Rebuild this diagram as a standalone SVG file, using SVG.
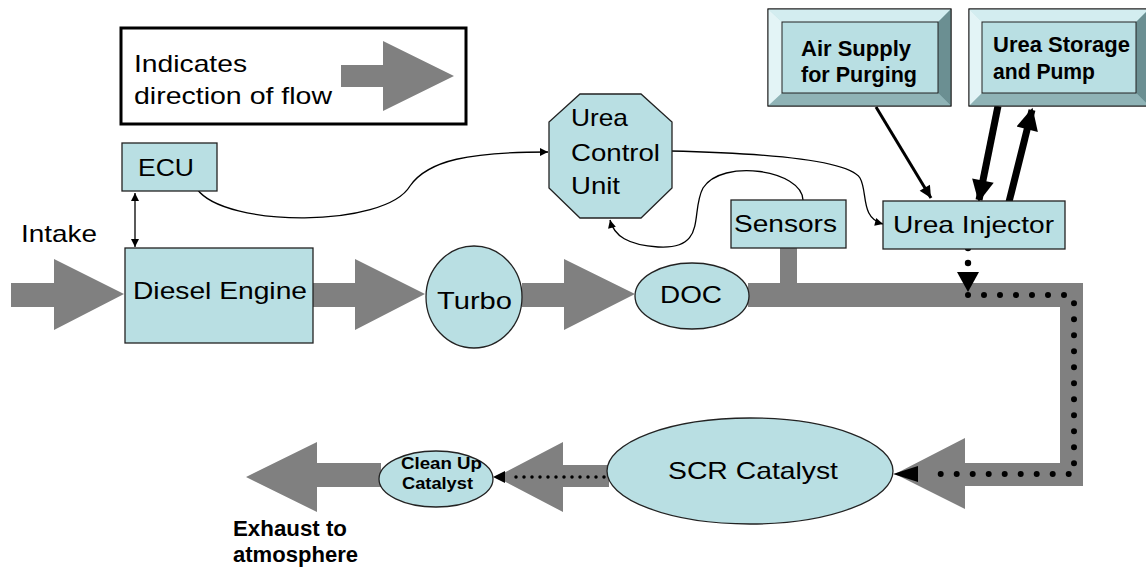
<svg xmlns="http://www.w3.org/2000/svg" width="1146" height="567" viewBox="0 0 1146 567">
<defs>
<style>
.t{font-family:"Liberation Sans",Arial,sans-serif;font-size:24px;fill:#000}
.b{font-family:"Liberation Sans",Arial,sans-serif;font-size:22px;font-weight:bold;fill:#000}
.s{font-family:"Liberation Sans",Arial,sans-serif;font-size:17px;font-weight:bold;fill:#000}
.node{fill:#b9dfe3;stroke:#222;stroke-width:1.3}
.flow{fill:#808080;stroke:none}
.thin{fill:none;stroke:#000;stroke-width:1.3}
.dots{fill:none;stroke:#000;stroke-width:6;stroke-linecap:round;stroke-dasharray:0 16}
.bvtop{fill:#d3edf0}.bvleft{fill:#e3f4f6}.bvbot{fill:#8fb3b6}.bvright{fill:#6b8f92}
</style>
<marker id="ah" viewBox="0 0 10 10" refX="10" refY="5" markerWidth="9" markerHeight="8" markerUnits="userSpaceOnUse" orient="auto"><path d="M0,0 L10,5 L0,10 z" fill="#000"/></marker>
<marker id="ahs" viewBox="0 0 10 10" refX="0" refY="5" markerWidth="9" markerHeight="8" markerUnits="userSpaceOnUse" orient="auto"><path d="M10,0 L0,5 L10,10 z" fill="#000"/></marker>
<marker id="ahm" viewBox="0 0 10 10" refX="10" refY="5" markerWidth="14" markerHeight="12" markerUnits="userSpaceOnUse" orient="auto"><path d="M0,0 L10,5 L0,10 z" fill="#000"/></marker>
<marker id="ahb" viewBox="0 0 10 10" refX="9" refY="5" markerWidth="24" markerHeight="22" markerUnits="userSpaceOnUse" orient="auto"><path d="M0,0 L10,5 L0,10 z" fill="#000"/></marker>
</defs>
<rect width="1146" height="567" fill="#fff"/>

<g id="legend">
<rect x="121" y="28" width="345" height="96" fill="#fff" stroke="#000" stroke-width="3"/>
<text class="t" x="134" y="72" font-size="26" textLength="113" lengthAdjust="spacingAndGlyphs">Indicates</text>
<text class="t" x="134" y="104" font-size="26" textLength="198" lengthAdjust="spacingAndGlyphs">direction of flow</text>
<polygon class="flow" points="341,65 383,65 383,41 454,76 383,111 383,87 341,87"/>
</g>

<g id="connectors">
<polygon class="flow" points="11,283 54,283 54,259 124,294 54,330 54,307 11,307"/>
<polygon class="flow" points="313,283 355,283 355,259 425,294 355,330 355,307 313,307"/>
<polygon class="flow" points="522,283 564,283 564,259 635,294 564,330 564,307 522,307"/>
<rect class="flow" x="748" y="283" width="335" height="24"/>
<rect class="flow" x="780" y="246" width="17" height="38"/>
<rect class="flow" x="1060" y="283" width="23" height="203"/>
<polygon class="flow" points="1083,463 965,463 965,438 895,474 965,509 965,486 1083,486"/>
<polygon class="flow" points="609,465 563,465 563,442 496,477 563,512 563,487 609,487"/>
<polygon class="flow" points="381,463 317,463 317,442 246,477 317,512 317,487 381,487"/>
<line class="thin" x1="135" y1="193" x2="135" y2="247" marker-start="url(#ahs)" marker-end="url(#ah)"/>
<path class="thin" d="M197,189 C225,228 385,228 410,186 C428,160 470,152 548,152" marker-end="url(#ah)"/>
<path class="thin" d="M670,151 C760,153 848,160 860,178 C868,192 860,218 883,224" marker-end="url(#ah)"/>
<path class="thin" d="M803,200 C802,170 722,158 703,188 C690,212 708,250 658,247 C628,245 614,236 610,220" marker-end="url(#ah)"/>
<line x1="876" y1="107" x2="931" y2="198" stroke="#000" stroke-width="3" marker-end="url(#ahm)"/>
<line x1="998" y1="106" x2="979" y2="200" stroke="#000" stroke-width="7" marker-end="url(#ahb)"/>
<line x1="1009" y1="202" x2="1032" y2="110" stroke="#000" stroke-width="7" marker-end="url(#ahb)"/>
<circle cx="968" cy="248" r="3.2" fill="#000"/>
<circle cx="968" cy="263" r="3.2" fill="#000"/>
<polygon points="957,272 979,272 968,292" fill="#000"/>
<path class="dots" d="M968,295 H1069 Q1074,295 1074,301 V474 H925"/>
<polygon points="918,466 918,482 893,474" fill="#000"/>
<path d="M604,477 H510" fill="none" stroke="#000" stroke-width="3.5" stroke-linecap="round" stroke-dasharray="0 8"/>
<polygon points="505,471 505,483 493,477" fill="#000"/>
</g>

<g id="ecu">
<rect class="node" x="122" y="143" width="95" height="48"/>
<text class="t" x="138" y="176" textLength="56" lengthAdjust="spacingAndGlyphs">ECU</text>
</g>

<g id="intake-label">
<text class="t" x="21" y="242" textLength="76" lengthAdjust="spacingAndGlyphs">Intake</text>
</g>

<g id="diesel-engine">
<rect class="node" x="125" y="248" width="188" height="95"/>
<text class="t" x="133" y="299" textLength="174" lengthAdjust="spacingAndGlyphs">Diesel Engine</text>
</g>

<g id="turbo">
<ellipse class="node" cx="474" cy="297" rx="48" ry="51"/>
<text class="t" x="437" y="309" textLength="75" lengthAdjust="spacingAndGlyphs">Turbo</text>
</g>

<g id="doc">
<ellipse class="node" cx="692" cy="296" rx="57" ry="33"/>
<text class="t" x="660" y="303" textLength="62" lengthAdjust="spacingAndGlyphs">DOC</text>
</g>

<g id="urea-control-unit">
<polygon class="node" points="580,94 641,94 672,122 672,188 641,218 580,218 549,188 549,122"/>
<text class="t" x="571" y="126" font-size="26" textLength="57" lengthAdjust="spacingAndGlyphs">Urea</text>
<text class="t" x="571" y="161" font-size="26" textLength="89" lengthAdjust="spacingAndGlyphs">Control</text>
<text class="t" x="571" y="194" font-size="26" textLength="49" lengthAdjust="spacingAndGlyphs">Unit</text>
</g>

<g id="sensors">
<rect class="node" x="731" y="200" width="115" height="48"/>
<text class="t" x="734" y="232" textLength="103" lengthAdjust="spacingAndGlyphs">Sensors</text>
</g>

<g id="urea-injector">
<rect class="node" x="883" y="201" width="182" height="48"/>
<text class="t" x="893" y="233" textLength="161" lengthAdjust="spacingAndGlyphs">Urea Injector</text>
</g>

<g id="air-supply">
<rect x="768" y="9" width="183" height="97" fill="#b9dfe3" stroke="#222" stroke-width="1"/>
<polygon class="bvtop" points="768,9 951,9 938,22 782,22"/>
<polygon class="bvleft" points="768,9 782,22 782,93 768,106"/>
<polygon class="bvbot" points="768,106 782,93 938,93 951,106"/>
<polygon class="bvright" points="951,9 938,22 938,93 951,106"/>
<rect x="782" y="22" width="156" height="71" fill="#b9dfe3" stroke="#222" stroke-width="1"/>
<rect x="768" y="9" width="183" height="97" fill="none" stroke="#222" stroke-width="1"/>
<text class="b" x="801" y="56" textLength="110" lengthAdjust="spacingAndGlyphs">Air Supply</text>
<text class="b" x="801" y="82" textLength="116" lengthAdjust="spacingAndGlyphs">for Purging</text>
</g>

<g id="urea-storage">
<rect x="969" y="9" width="180" height="97" fill="#b9dfe3" stroke="#222" stroke-width="1"/>
<polygon class="bvtop" points="969,9 1149,9 1136,22 982,22"/>
<polygon class="bvleft" points="969,9 982,22 982,93 969,106"/>
<polygon class="bvbot" points="969,106 982,93 1136,93 1149,106"/>
<polygon class="bvright" points="1149,9 1136,22 1136,93 1149,106"/>
<rect x="982" y="22" width="154" height="71" fill="#b9dfe3" stroke="#222" stroke-width="1"/>
<rect x="969" y="9" width="180" height="97" fill="none" stroke="#222" stroke-width="1"/>
<text class="b" x="993" y="52" textLength="137" lengthAdjust="spacingAndGlyphs">Urea Storage</text>
<text class="b" x="993" y="79" textLength="102" lengthAdjust="spacingAndGlyphs">and Pump</text>
</g>

<g id="scr-catalyst">
<ellipse class="node" cx="750" cy="471" rx="143" ry="53"/>
<text class="t" x="668" y="479" textLength="170" lengthAdjust="spacingAndGlyphs">SCR Catalyst</text>
</g>

<g id="clean-up-catalyst">
<ellipse class="node" cx="436" cy="479" rx="57" ry="28"/>
<text class="s" x="401" y="469" textLength="81" lengthAdjust="spacingAndGlyphs">Clean Up</text>
<text class="s" x="402" y="489" textLength="71" lengthAdjust="spacingAndGlyphs">Catalyst</text>
</g>

<g id="exhaust-label">
<text class="b" x="233" y="536" textLength="114" lengthAdjust="spacingAndGlyphs">Exhaust to</text>
<text class="b" x="233" y="562" textLength="125" lengthAdjust="spacingAndGlyphs">atmosphere</text>
</g>
</svg>
